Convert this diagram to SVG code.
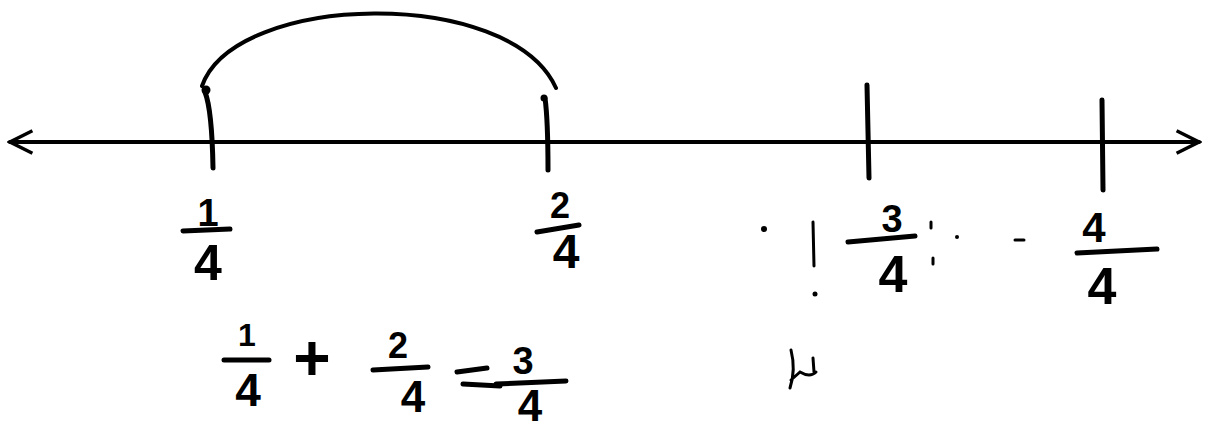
<svg xmlns="http://www.w3.org/2000/svg" width="1209" height="430" viewBox="0 0 1209 430">
<style>
.ln{stroke:#000;stroke-width:4;fill:none;stroke-linecap:round}
.tk{stroke:#000;stroke-width:5;fill:none;stroke-linecap:round}
.bar{stroke:#000;stroke-width:5;stroke-linecap:round}
.d{font-family:"Liberation Sans",Arial,sans-serif;font-weight:bold;fill:#000;text-anchor:middle}
.m{stroke:#000;stroke-width:3;fill:none;stroke-linecap:round}
</style>
<defs>
<marker id="ah" viewBox="0 0 20 20" refX="18" refY="10" markerWidth="7" markerHeight="7" orient="auto-start-reverse" markerUnits="strokeWidth">
<path d="M2,2 L18,10 L2,18" fill="none" stroke="#000" stroke-width="2.5"/>
</marker>
</defs>
<rect width="1209" height="430" fill="#fff"/>
<g id="connectors">
<line class="ln" x1="10" y1="142" x2="1199" y2="142" marker-start="url(#ah)" marker-end="url(#ah)"/>
<path class="ln" d="M202,86 C235,-8 510,-14 556,88"/>
<circle cx="206" cy="90" r="4.5"/>
<circle cx="544" cy="98" r="3.5"/>
</g>
<g id="tick1"><path class="tk" d="M205,92 Q212,110 213,168"/></g>
<g id="tick2"><path class="tk" d="M545,98 Q548,120 548,170"/></g>
<g id="tick3"><line class="tk" x1="867" y1="85" x2="869" y2="178"/></g>
<g id="tick4"><line class="tk" x1="1102" y1="100" x2="1103" y2="190"/></g>
<g id="label1">
<text class="d" x="208" y="226" font-size="38">1</text>
<line class="bar" x1="183" y1="231" x2="230" y2="229"/>
<text class="d" x="208" y="280" font-size="50">4</text>
</g>
<g id="label2">
<text class="d" x="560" y="218" font-size="36">2</text>
<line class="bar" x1="537" y1="232" x2="579" y2="225"/>
<text class="d" x="566" y="268" font-size="48">4</text>
</g>
<g id="label3">
<text class="d" x="892" y="232" font-size="38">3</text>
<line class="bar" x1="848" y1="242" x2="915" y2="236"/>
<text class="d" x="893" y="292" font-size="52">4</text>
</g>
<g id="label4">
<text class="d" x="1094" y="242" font-size="42">4</text>
<line class="bar" x1="1077" y1="253" x2="1157" y2="249"/>
<text class="d" x="1102" y="304" font-size="52">4</text>
</g>
<g id="equation">
<text class="d" x="247" y="346" font-size="32">1</text>
<line class="bar" x1="224" y1="360" x2="269" y2="360"/>
<text class="d" x="248" y="406" font-size="46">4</text>
<text class="d" x="312" y="380" font-size="64" font-weight="normal">+</text>
<text class="d" x="398" y="358" font-size="36">2</text>
<line class="bar" x1="373" y1="370" x2="428" y2="367"/>
<text class="d" x="413" y="412" font-size="44">4</text>
<line class="bar" x1="457" y1="372" x2="487" y2="368"/>
<line class="bar" x1="463" y1="384" x2="500" y2="386"/>
<text class="d" x="523" y="374" font-size="38">3</text>
<line class="bar" x1="496" y1="384" x2="566" y2="381"/>
<text class="d" x="530" y="421" font-size="44">4</text>
</g>
<g id="marks">
<circle cx="764" cy="229" r="3"/>
<path class="m" d="M813,222 L814,266"/>
<circle cx="815" cy="294" r="2.5"/>
<path class="m" d="M791,350 Q796,370 790,388 M791,380 L800,372 Q810,378 816,372 M813,358 L814,372"/>
<path class="m" d="M931,222 L931,228 M933,258 L933,264"/>
<circle cx="957" cy="237" r="2"/>
<line class="m" x1="1015" y1="240" x2="1024" y2="240"/>
</g>
</svg>
